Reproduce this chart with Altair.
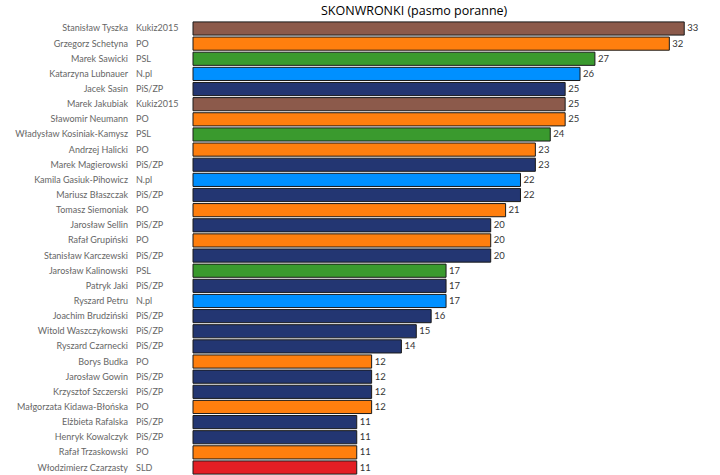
import altair as alt
import pandas as pd

names = [
    "Stanisław Tyszka", "Grzegorz Schetyna", "Marek Sawicki", "Katarzyna Lubnauer",
    "Jacek Sasin", "Marek Jakubiak", "Sławomir Neumann", "Władysław Kosiniak-Kamysz",
    "Andrzej Halicki", "Marek Magierowski", "Kamila Gasiuk-Pihowicz", "Mariusz Błaszczak",
    "Tomasz Siemoniak", "Jarosław Sellin", "Rafał Grupiński", "Stanisław Karczewski",
    "Jarosław Kalinowski", "Patryk Jaki", "Ryszard Petru", "Joachim Brudziński",
    "Witold Waszczykowski", "Ryszard Czarnecki", "Borys Budka", "Jarosław Gowin",
    "Krzysztof Szczerski", "Małgorzata Kidawa-Błońska", "Elżbieta Rafalska",
    "Henryk Kowalczyk", "Rafał Trzaskowski", "Włodzimierz Czarzasty",
]
parties = [
    "Kukiz2015", "PO", "PSL", "N.pl", "PiS/ZP", "Kukiz2015", "PO", "PSL",
    "PO", "PiS/ZP", "N.pl", "PiS/ZP", "PO", "PiS/ZP", "PO", "PiS/ZP",
    "PSL", "PiS/ZP", "N.pl", "PiS/ZP", "PiS/ZP", "PiS/ZP", "PO", "PiS/ZP",
    "PiS/ZP", "PO", "PiS/ZP", "PiS/ZP", "PO", "SLD",
]
values = [33, 32, 27, 26, 25, 25, 25, 24, 23, 23, 22, 22, 21, 20, 20, 20,
          17, 17, 17, 16, 15, 14, 12, 12, 12, 12, 11, 11, 11, 11]

party_domain = ["Kukiz2015", "PO", "PSL", "N.pl", "PiS/ZP", "SLD"]
party_colors = ["#8c5a4b", "#ff7f0e", "#3a9a2e", "#0090ff", "#233672", "#e31e24"]

df = pd.DataFrame({"name": names, "party": parties, "value": values})

FONT = "Lato"

y = alt.Y("name:N", sort=names, axis=None,
          scale=alt.Scale(paddingInner=0.13, paddingOuter=0.06))

bars = alt.Chart(df).mark_bar(stroke="#1a1a1a", strokeWidth=1).encode(
    x=alt.X("value:Q", axis=None, scale=alt.Scale(domain=[0, 35], nice=False)),
    y=y,
    color=alt.Color("party:N", scale=alt.Scale(domain=party_domain, range=party_colors), legend=None),
)

vals = alt.Chart(df).mark_text(align="left", baseline="middle", dx=3, fontSize=9.5,
                               font=FONT, color="#333333").encode(
    x="value:Q", y=y, text="value:Q"
)

name_labels = alt.Chart(df).mark_text(align="right", baseline="middle", fontSize=9,
                                      font=FONT, color="#666666").encode(
    x=alt.value(-65), y=y, text="name:N"
)

party_labels = alt.Chart(df).mark_text(align="left", baseline="middle", fontSize=9,
                                       font=FONT, color="#666666").encode(
    x=alt.value(-57), y=y, text="party:N"
)

chart = alt.layer(bars, vals, name_labels, party_labels).properties(
    width=521,
    height=454,
    autosize=alt.AutoSizeParams(type="none"),
    padding={"left": 193, "top": 21, "right": 6, "bottom": 0},
    title=alt.TitleParams("SKONWRONKI (pasmo poranne)", anchor="start", frame="group",
                          dx=128, fontSize=12.5, font="Open Sans", fontWeight="normal",
                          color="#000000", offset=4),
).configure_view(stroke=None)

chart.save("out.html", embed_options={"renderer": "svg", "actions": False})
